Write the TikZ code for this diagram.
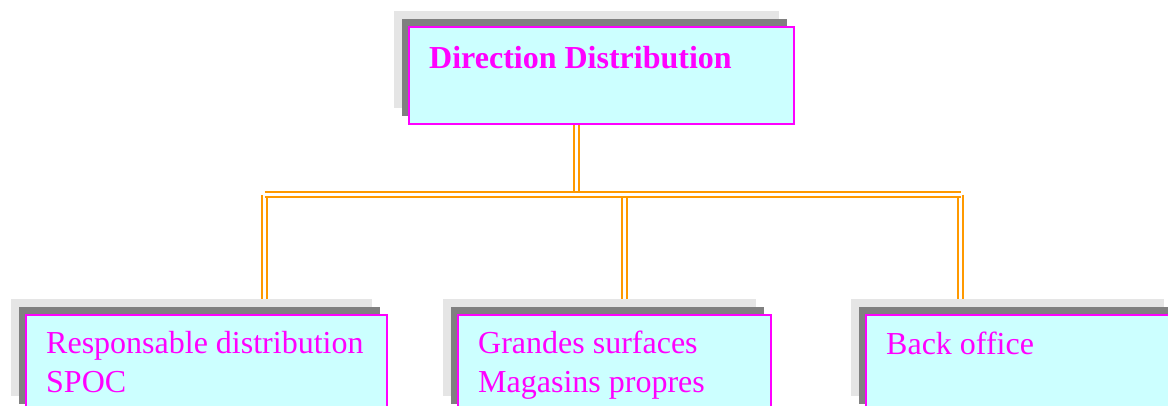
\documentclass[tikz,border=0pt]{standalone}
\usepackage{fontspec}
\setmainfont{Liberation Serif}
\usetikzlibrary{calc,shadows,backgrounds}
\definecolor{boxfill}{HTML}{CCFFFF}
\definecolor{boxline}{HTML}{FF00FF}
\definecolor{shadelight}{HTML}{E5E5E5}
\definecolor{shadedark}{HTML}{808080}
\definecolor{linkcol}{HTML}{FF9900}
\tikzset{
  orgbox/.style={draw=boxline, line width=1.5pt, fill=boxfill,
    anchor=north west, inner sep=0pt, minimum height=97pt,
    general shadow={fill=shadelight, shadow xshift=-15pt, shadow yshift=16pt},
    general shadow={fill=shadedark, shadow xshift=-7pt, shadow yshift=8pt}},
  boxtext/.style={text=boxline, inner sep=0pt, anchor=base west, align=left,
    font=\fontsize{32}{39}\selectfont},
  link/.style={draw=linkcol, line width=1.8pt, double=white, double distance=3.2pt}
}
\begin{document}
\begin{tikzpicture}[x=1pt, y=-1pt]
  \useasboundingbox (0,0) rectangle (1168,405);
  \clip (0,0) rectangle (1168,405);

  % boxes
  \node[orgbox, minimum width=385pt] (top) at (408,26) {};
  \node[orgbox, minimum width=361pt] (c1) at (25,314) {};
  \node[orgbox, minimum width=313pt] (c2) at (457,314) {};
  \node[orgbox, minimum width=313pt] (c3) at (865,314) {};

  % labels (the base anchor of a two-line label is its last line)
  \node[boxtext] (t0) at ($(top.north west)+(21,42)$) {\bfseries Direction Distribution};
  \node[boxtext] (t1) at ($(c1.north west)+(21,78)$) {Responsable distribution\\SPOC};
  \node[boxtext] (t2) at ($(c2.north west)+(21,78)$) {Grandes surfaces\\Magasins propres};
  \node[boxtext] (t3) at ($(c3.north west)+(21,40)$) {Back office};

  % double connectors
  \coordinate (hub) at (576.5,194.5);
  \coordinate (hl) at (264.5,194.5);
  \coordinate (hm) at (624.5,194.5);
  \coordinate (hr) at (960.5,194.5);
  \begin{scope}[on background layer]
    \draw[link] (top.south -| hub) -- (hub);
    \draw[link] (hl) -- (c1.north -| hl);
    \draw[link] (hm) -- (c2.north -| hm);
    \draw[link] (hr) -- (c3.north -| hr);
    \draw[link] (hl) -- (hr);
  \end{scope}
\end{tikzpicture}
\end{document}
